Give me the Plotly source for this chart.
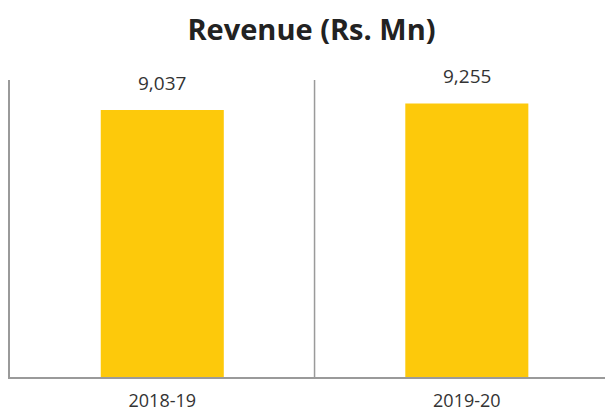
import plotly.graph_objects as go

categories = ["2018-19", "2019-20"]
revenue = [9037, 9255]
labels = ["9,037", "9,255"]

fig = go.Figure()
fig.add_trace(go.Bar(
    x=categories, y=revenue,
    marker=dict(color="#FDC90B", line=dict(width=0)),
    width=0.404,
))
for c, v, t in zip(categories, revenue, labels):
    fig.add_annotation(x=c, y=v, text=t, showarrow=False, yanchor="bottom",
                       yshift=12, font=dict(family="Open Sans, sans-serif",
                                            size=19, color="#333333"))
fig.add_shape(type="line", xref="x", yref="y", x0=0.5, x1=0.5, y0=0, y1=10050,
              line=dict(color="#9a9a9a", width=1.5))
fig.update_layout(
    width=605, height=405,
    margin=dict(l=2, r=0, t=72, b=36),
    paper_bgcolor="white", plot_bgcolor="white",
    title=dict(text="<b>Revenue (Rs. Mn)</b>", x=0.5, xref="paper", xanchor="center",
               y=1 - 22 / 405, yref="container", yanchor="middle",
               font=dict(family="Open Sans, sans-serif", size=29, color="#222222")),
    showlegend=False,
    xaxis=dict(range=[-0.5, 1.48], showline=True, linecolor="#9a9a9a", linewidth=2,
               ticks="", showgrid=False, zeroline=False, ticklabelstandoff=6,
               automargin=False,
               tickfont=dict(family="Open Sans, sans-serif", size=18, color="#333333")),
    yaxis=dict(range=[0, 10050], showline=True, linecolor="#9a9a9a", linewidth=2,
               showticklabels=False, ticks="", showgrid=False, zeroline=False,
               automargin=False),
)
fig.write_html("out.html")
